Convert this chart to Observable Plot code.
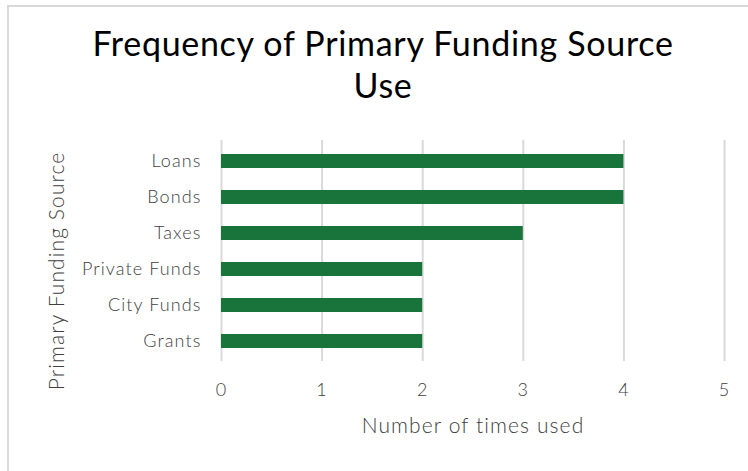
<!DOCTYPE html>
<html>
<head>
<meta charset="utf-8">
<script src="https://cdn.jsdelivr.net/npm/d3@7"></script>
<script src="https://cdn.jsdelivr.net/npm/@observablehq/plot@0.6"></script>
<style>
  html, body { margin: 0; padding: 0; background: #fff; }
  #wrap { position: relative; width: 748px; height: 471px; overflow: hidden; }
  #frame { position: absolute; left: 7px; top: 5px; right: -10px; bottom: -10px;
           border-top: 2px solid #d9d9d9; border-left: 2px solid #d9d9d9; }
  #title { position: absolute; left: 0; top: 22px; width: 766px; text-align: center;
           font-family: Lato, sans-serif; font-size: 34px; font-weight: 400; line-height: 42px;
           letter-spacing: 0.7px; color: #000; }
  #chart { position: absolute; left: 0; top: 0; }
  #chart text { letter-spacing: 1.1px; }
</style>
</head>
<body>
<div id="wrap">
  <div id="frame"></div>
  <div id="title">Frequency of Primary Funding Source<br>Use</div>
  <div id="chart"></div>
</div>
<script>
const sources = ["Loans", "Bonds", "Taxes", "Private Funds", "City Funds", "Grants"];
const counts = [4, 4, 3, 2, 2, 2];
const xTicks = [0, 1, 2, 3, 4, 5];
const data = sources.map((s, i) => ({source: s, count: counts[i]}));

const plot = Plot.plot({
  width: 748,
  height: 471,
  marginLeft: 221,
  marginRight: 24,
  marginTop: 140,
  marginBottom: 110,
  style: {background: "transparent", fontFamily: "Lato, sans-serif"},
  x: {domain: [0, 5], ticks: xTicks},
  y: {domain: sources, paddingInner: 0.62, paddingOuter: 0.31},
  marks: [
    Plot.ruleX(xTicks, {stroke: "#d9d9d9", strokeWidth: 2}),
    Plot.barX(data, {x: "count", y: "source", fill: "#18743a"}),
    Plot.axisX({ticks: xTicks, tickFormat: d => String(d), tickSize: 0, tickPadding: 22, label: null,
                fontSize: 18, fill: "#404040", fontWeight: 300}),
    Plot.axisY({tickSize: 0, tickPadding: 20, label: null,
                fontSize: 18, fill: "#404040", fontWeight: 300}),
    Plot.text(["Number of times used"], {frameAnchor: "bottom", dy: 71,
                fontSize: 21, fill: "#404040", fontWeight: 300}),
    Plot.text(["Primary Funding Source"], {frameAnchor: "left", textAnchor: "middle", dx: -164, dy: 20, rotate: -90,
                fontSize: 21, fill: "#404040", fontWeight: 300})
  ]
});
document.getElementById("chart").appendChild(plot);
</script>
</body>
</html>
